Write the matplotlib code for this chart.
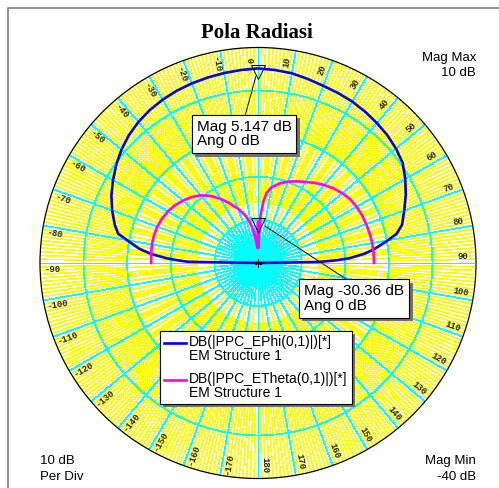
import numpy as np
import matplotlib
matplotlib.use('Agg')
import matplotlib.pyplot as plt
from matplotlib.collections import LineCollection
from matplotlib.lines import Line2D
from matplotlib.legend_handler import HandlerLine2D
from matplotlib import patheffects as pe
from matplotlib.transforms import offset_copy

W, H = 499, 488

# radiation pattern, angle in deg, magnitude in dB
ephi_ang = [-90, -89, -88, -87, -85, -83, -80, -78, -75, -70, -65, -60, -55, -50,
            -45, -40, -35, -30, -25, -20, -15, -10, -5, 0, 5, 10, 15, 20, 25, 30,
            35, 40, 45, 50, 55, 60, 65, 70, 75, 78, 80, 83, 85, 87, 88, 89, 90]
ephi_db = [-40, -24, -21.5, -19, -15.2, -12.5, -9.5, -7.2, -6.0, -4.4, -2.9, -1.6, -0.3, 0.9,
           1.9, 2.7, 3.3, 3.75, 4.1, 4.35, 4.55, 4.75, 4.95, 5.147, 4.95, 4.7, 4.2, 3.75, 3.5, 3.25,
           2.85, 2.4, 1.95, 1.3, 0.5, -1.0, -2.6, -4.3, -5.8, -7.5, -9.8, -13, -15.5, -19, -22, -26, -40]

etheta_ang = [-90, -85, -80, -75, -70, -65, -60, -55, -50, -45, -40, -35, -30, -25, -20,
              -15, -12, -10, -8, -6, -4, -2, -1, 0, 1, 2, 3, 5, 7, 10, 15, 20, 25, 30,
              35, 40, 45, 50, 55, 60, 65, 70, 75, 80, 85, 90]
etheta_db = [-15.5, -15.4, -15.3, -15.3, -15.4, -15.7, -16.1, -16.7, -17.5, -18.4, -19.5, -21.0, -22.8, -24.8, -26.6,
             -28.5, -30.0, -31.2, -32.5, -34.0, -35.5, -36.5, -36.0, -30.36, -36.5, -33.0, -29.0, -25.5, -23.6, -22.2, -20.9, -19.9, -19.1, -18.3,
             -17.3, -16.4, -15.5, -14.8, -14.2, -13.9, -13.7, -13.6, -13.5, -13.4, -13.4, -13.4]

labels = ['DB(|PPC_EPhi(0,1)|)[*]\nEM Structure 1', 'DB(|PPC_ETheta(0,1)|)[*]\nEM Structure 1']
colors = ['#0000ee', '#ff00ff']
mag_min, mag_max, per_div = -40, 10, 10
marker_ang = [0, 0]
marker_db = [5.147, -30.36]

YEL = '#ffff00'
CYA = '#00ffff'

fig = plt.figure(figsize=(W / 100, H / 100), dpi=100)
fig.patch.set_facecolor('white')

# polar area: centre (258, 263), radii 218 x 215.5 px
ax = fig.add_axes([40 / W, (H - 478.5) / H, 436 / W, 431 / H], projection='polar')
ax.set_theta_zero_location('N')
ax.set_theta_direction(-1)
ax.set_rlim(mag_min, mag_max)
ax.set_aspect('auto')
ax.grid(False)
ax.set_xticks([])
ax.set_yticks([])
ax.spines['polar'].set_color('black')
ax.spines['polar'].set_linewidth(0.9)

GLW = 0.5

# grid spokes
def spokes(angles, r0, r1, color, z):
    segs = [[(np.deg2rad(a), r0), (np.deg2rad(a), r1)] for a in angles]
    ax.add_collection(LineCollection(segs, colors=color, linewidths=GLW,
                                     antialiaseds=False, zorder=z))

all_deg = np.arange(-180, 180)
spokes([a for a in all_deg if a % 5 != 0 and a % 2 == 0], -26, 10, YEL, 1)
spokes([a for a in all_deg if a % 5 != 0 and a % 2 != 0], -10, 10, YEL, 1)
spokes([a for a in all_deg if a % 5 == 0 and a % 10 != 0], -30, 10, YEL, 1)
spokes([a for a in all_deg if a % 5 == 0 and a % 10 != 0], mag_min, -30, CYA, 2)
spokes([a for a in all_deg if a % 10 == 0], mag_min, mag_max, CYA, 2)

th = np.linspace(0, 2 * np.pi, 721)
for lvl in range(mag_min + per_div, mag_max, per_div):
    ax.plot(th, np.full_like(th, lvl), color=CYA, lw=GLW, antialiased=False, zorder=2)

# angle labels
for a in list(range(0, 181, 10)) + list(range(-10, -180, -10)):
    rot = 90 - a if a >= 0 else -90 - a
    ax.text(np.deg2rad(a - 1.8), 7.0, str(a), rotation=rot, rotation_mode='anchor',
            ha='center', va='center', fontsize=6.5, family='Liberation Mono',
            weight='bold', color='#222222', zorder=3)

# curves
ax.plot(np.deg2rad(ephi_ang), np.clip(ephi_db, mag_min, None), color=colors[0], lw=1.9, zorder=5,
        label=labels[0])
ax.plot(np.deg2rad(etheta_ang), np.clip(etheta_db, mag_min, None), color=colors[1], lw=1.9, zorder=5,
        label=labels[1])
ax.plot([0], [mag_min], marker='+', color='black', ms=6, mew=0.8, zorder=6)

# markers
mtr = offset_copy(ax.transData, fig=fig, x=0, y=-3.5, units='dots')
ax.plot(np.deg2rad(marker_ang), marker_db, ls='none', marker='v', ms=9.5, mfc='none',
        mec='black', mew=0.7, transform=mtr, zorder=7)

shadow = [pe.withSimplePatchShadow(offset=(2.5, -2.5), shadow_rgbFace='0.45', alpha=1)]

def callout(ang, db, txt, cx, cy):
    t = ax.annotate(txt, xy=(np.deg2rad(ang), db), xycoords='data',
                    xytext=(cx, H - cy), textcoords='figure pixels',
                    ha='center', va='center', multialignment='left',
                    fontsize=11, linespacing=1.05,
                    family='Liberation Sans', annotation_clip=False, zorder=9,
                    bbox=dict(boxstyle='square,pad=0.33', fc='white', ec='black', lw=0.8),
                    arrowprops=dict(arrowstyle='-', color='black', lw=0.7, relpos=(0.5, 1.0),
                                    shrinkA=0, shrinkB=6))
    t.get_bbox_patch().set_path_effects(shadow + [pe.Normal()])

callout(marker_ang[0], marker_db[0], 'Mag %.3f dB\nAng 0 dB' % marker_db[0], 244, 134)
callout(marker_ang[1], marker_db[1], 'Mag %.2f dB\nAng 0 dB' % marker_db[1], 354, 298.5)


class FirstLineHandler(HandlerLine2D):
    # legend line beside the first label line, a little indented
    def create_artists(self, legend, orig_handle, xdescent, ydescent, width, height, fontsize, trans):
        arts = super().create_artists(legend, orig_handle, xdescent, ydescent, width, height, fontsize, trans)
        for a in arts:
            a.set_ydata(np.asarray(a.get_ydata()) + 0.47 * fontsize)
            xd = np.asarray(a.get_xdata(), dtype=float)
            if len(xd) == 2:
                xd[0] += 0.3 * fontsize
                a.set_xdata(xd)
        return arts


leg = ax.legend(loc='upper left', bbox_to_anchor=(160 / W, 1 - 331 / H),
                bbox_transform=fig.transFigure, prop={'family': 'Liberation Sans', 'size': 10},
                frameon=True, fancybox=False, framealpha=1, edgecolor='black',
                borderpad=0.3, handlelength=1.55, handletextpad=0.25, labelspacing=0.7,
                borderaxespad=0, handler_map={Line2D: FirstLineHandler()})
leg.get_frame().set_linewidth(0.8)
leg.get_frame().set_path_effects(shadow + [pe.Normal()])
leg.set_zorder(10)
for t in leg.get_texts():
    t.set_linespacing(0.95)

# frame & header texts
fig.add_artist(Line2D([8 / W, 8 / W, 1], [0, 1 - 8 / H, 1 - 8 / H], color='0.5', lw=1.2))
fig.text(257 / W, 1 - 37.5 / H, 'Pola Radiasi', ha='center', va='baseline',
         fontsize=15, weight='bold', family='Liberation Serif')
fig.text(476 / W, 1 - 51.5 / H, 'Mag Max\n%d dB' % mag_max, ha='right', va='top',
         fontsize=9.5, family='Liberation Sans', linespacing=1.4)
fig.text(40 / W, 1 - 455 / H, '%d dB\nPer Div' % per_div, ha='left', va='top',
         fontsize=9.5, family='Liberation Sans', linespacing=1.4)
fig.text(476 / W, 1 - 455 / H, 'Mag Min\n%d dB' % mag_min, ha='right', va='top',
         fontsize=9.5, family='Liberation Sans', linespacing=1.4)

fig.savefig('out.png', dpi=100)
